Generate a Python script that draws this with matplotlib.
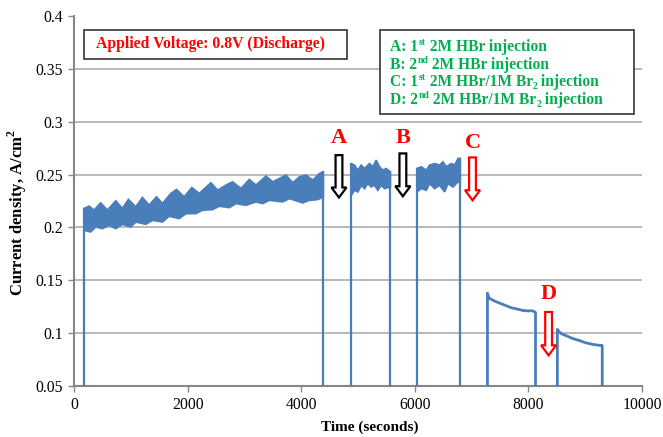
import numpy as np
import matplotlib
matplotlib.use("Agg")
import matplotlib.pyplot as plt
from matplotlib.patches import Rectangle, FancyArrow

plt.rcParams['font.family'] = ['Liberation Serif', 'DejaVu Serif']
plt.rcParams['mathtext.fontset'] = 'custom'
plt.rcParams['mathtext.rm'] = 'Liberation Serif:bold'
plt.rcParams['mathtext.bf'] = 'Liberation Serif:bold'

# ---- data: current density (A/cm^2) vs time (s) ----
# between runs the cell current is zero
gap_current = 0.0

# run 1: noisy band, upper / lower envelope
run1_t_up = [176, 265, 353, 470, 588, 735, 852, 958, 1088, 1205, 1323, 1452, 1558, 1705,
             1805, 1940, 2075, 2205, 2410, 2528, 2675, 2792, 2940, 3086, 3204, 3380,
             3498, 3733, 3851, 3968, 4086, 4203, 4321, 4390]
run1_up = [0.2179, 0.2201, 0.2163, 0.2232, 0.2163, 0.2251, 0.2179, 0.2264, 0.2194, 0.2283,
           0.2210, 0.2289, 0.2226, 0.2321, 0.2358, 0.2289, 0.2377, 0.2321, 0.2422, 0.2352,
           0.2400, 0.2431, 0.2368, 0.2453, 0.2400, 0.2485, 0.2431, 0.2494, 0.2422, 0.2478,
           0.2494, 0.2447, 0.2510, 0.2526]
run1_t_lo = [176, 294, 382, 500, 617, 735, 852, 999, 1088, 1264, 1382, 1558, 1675, 1852,
             1970, 2146, 2263, 2440, 2557, 2734, 2851, 3028, 3204, 3322, 3439, 3674,
             3792, 4027, 4145, 4292, 4390]
run1_lo = [0.1973, 0.1958, 0.2005, 0.1989, 0.2021, 0.1989, 0.2030, 0.2005, 0.2052, 0.2030,
           0.2068, 0.2052, 0.2106, 0.2084, 0.2131, 0.2131, 0.2163, 0.2169, 0.2201, 0.2188,
           0.2226, 0.2210, 0.2242, 0.2226, 0.2257, 0.2242, 0.2273, 0.2232, 0.2257, 0.2264,
           0.2289]

# run 2 (after A)
run2_t_up = [4880, 4938, 4997, 5056, 5115, 5203, 5262, 5320, 5379, 5438, 5497, 5570]
run2_up = [0.2604, 0.2589, 0.2541, 0.2589, 0.2557, 0.2604, 0.2573, 0.2636, 0.2573,
           0.2541, 0.2557, 0.2525]
run2_t_lo = [4880, 4938, 4997, 5056, 5115, 5173, 5232, 5291, 5350, 5409, 5467, 5570]
run2_lo = [0.2304, 0.2352, 0.2336, 0.2399, 0.2368, 0.2415, 0.2383, 0.2399, 0.2352,
           0.2399, 0.2368, 0.2383]

# run 3 (after B)
run3_t_up = [6038, 6114, 6202, 6261, 6349, 6437, 6496, 6555, 6643, 6702, 6761, 6800]
run3_up = [0.2557, 0.2573, 0.2541, 0.2589, 0.2604, 0.2589, 0.2620, 0.2573, 0.2604,
           0.2589, 0.2652, 0.2652]
run3_t_lo = [6038, 6114, 6202, 6261, 6349, 6437, 6526, 6584, 6673, 6761, 6800]
run3_lo = [0.2336, 0.2368, 0.2352, 0.2415, 0.2368, 0.2399, 0.2336, 0.2415, 0.2383,
           0.2431, 0.2431]

# run 4 (after C)
run4_t = [7279, 7310, 7400, 7500, 7600, 7700, 7800, 7900, 8000, 8060, 8100, 8125]
run4_i = [0.1378, 0.1330, 0.1305, 0.1282, 0.1262, 0.1240, 0.1228, 0.1215, 0.1210,
          0.1212, 0.1205, 0.1195]

# run 5 (after D)
run5_t = [8510, 8530, 8580, 8680, 8800, 8900, 9000, 9140, 9250, 9300]
run5_i = [0.1035, 0.1020, 0.0995, 0.0972, 0.0945, 0.0930, 0.0910, 0.0893, 0.0885, 0.0883]

# injection markers: label, time, arrow top, arrow tip, label height, colour
marker_labels = ['A', 'B', 'C', 'D']
marker_t = [4665, 5790, 7016, 8356]
marker_top = [0.2684, 0.2700, 0.2662, 0.1200]
marker_tip = [0.2283, 0.2295, 0.2257, 0.0790]
marker_label_y = [0.2849, 0.2849, 0.2802, 0.1367]
marker_edge = ['black', 'black', 'red', 'red']

x_ticks = [0, 2000, 4000, 6000, 8000, 10000]
y_ticks = [0.05, 0.1, 0.15, 0.2, 0.25, 0.3, 0.35, 0.4]
y_tick_labels = ['0.05', '0.1', '0.15', '0.2', '0.25', '0.3', '0.35', '0.4']

# legend lines as (text, style) pieces: n = normal, sup = superscript, sub = subscript
legend_lines = [
    [('A: 1', 'n'), ('st', 'sup'), (' 2M HBr injection', 'n')],
    [('B: 2', 'n'), ('nd', 'sup'), (' 2M HBr injection', 'n')],
    [('C: 1', 'n'), ('st', 'sup'), (' 2M HBr/1M Br', 'n'), ('2', 'sub'), (' injection', 'n')],
    [('D: 2', 'n'), ('nd', 'sup'), (' 2M HBr/1M Br', 'n'), ('2', 'sub'), (' injection', 'n')],
]
condition_text = 'Applied Voltage: 0.8V (Discharge)'

# ---- figure ----
W, H = 663, 437
fig = plt.figure(figsize=(W / 100, H / 100), dpi=100)
ax = fig.add_axes([74 / W, 1 - 386 / H, (642 - 74) / W, (386 - 16) / H])
renderer = fig.canvas.get_renderer()

blue = '#4A7EBB'
gray = '#868686'


def fx(px):
    return px / W


def fy(py):
    return 1 - py / H


def rich_line(x_px, base_px, pieces, color, size):
    """Draw one line of bold text made of normal / super / subscript pieces."""
    x = x_px
    em = size * 100 / 72
    for s, kind in pieces:
        if kind == 'sup':
            fs, dy = size * 0.62, -0.38 * em
        elif kind == 'sub':
            fs, dy = size * 0.62, 0.18 * em
        else:
            fs, dy = size, 0.0
        t = fig.text(fx(x), fy(base_px + dy), s, fontsize=fs, fontweight='bold',
                     color=color, ha='left', va='baseline', zorder=5)
        x += t.get_window_extent(renderer).width


# noisy bands
for tu, up, tl, lo in [(run1_t_up, run1_up, run1_t_lo, run1_lo),
                       (run2_t_up, run2_up, run2_t_lo, run2_lo),
                       (run3_t_up, run3_up, run3_t_lo, run3_lo)]:
    xs = np.concatenate([tu, tl[::-1]])
    ys = np.concatenate([up, lo[::-1]])
    ax.fill(xs, ys, color=blue, lw=1.3, ec=blue, zorder=3)
    ax.plot([tu[0], tu[0]], [gap_current, up[0]], color=blue, lw=1.6, zorder=3)
    ax.plot([tu[-1], tu[-1]], [gap_current, up[-1]], color=blue, lw=1.6, zorder=3)

# smooth decays
for tt, ii in [(run4_t, run4_i), (run5_t, run5_i)]:
    xs = [tt[0]] + tt + [tt[-1]]
    ys = [gap_current] + ii + [gap_current]
    ax.plot(xs, ys, color=blue, lw=2.0, zorder=3, solid_joinstyle='round')

# axes styling
ax.set_xlim(0, 10000)
ax.set_ylim(0.05, 0.4)
ax.set_xticks(x_ticks)
ax.set_xticklabels([str(v) for v in x_ticks])
ax.set_yticks(y_ticks)
ax.set_yticklabels(y_tick_labels)
for s in ['top', 'right']:
    ax.spines[s].set_visible(False)
for s in ['left', 'bottom']:
    ax.spines[s].set_color(gray)
    ax.spines[s].set_linewidth(1.5)
ax.tick_params(axis='both', direction='out', length=4, width=1.0, color=gray,
               labelsize=11.3, pad=4)
for yv in y_ticks[1:-1]:
    ax.axhline(yv, color='#A6A6A6', lw=1.1, zorder=1)

ax.set_xlabel('Time (seconds)', fontsize=11, fontweight='bold')
ax.xaxis.set_label_coords((370 - 74) / 568, -(421 - 386) / 370)
ax.set_ylabel(r'Current density, A/cm$^{\mathrm{2}}$', fontsize=12, fontweight='bold')
ax.yaxis.set_label_coords(-(74 - 29) / 568, (386 - 213) / 370)

# injection arrows
for lab, t, top, tip, ly, ec in zip(marker_labels, marker_t, marker_top, marker_tip,
                                    marker_label_y, marker_edge):
    arr = FancyArrow(t, top, 0, tip - top, width=120, head_width=265, head_length=0.0095,
                     length_includes_head=True, fc='white', ec=ec, lw=1.6, zorder=5)
    ax.add_patch(arr)
    ax.text(t, ly, lab, color='red', fontsize=16, fontweight='bold', ha='center',
            va='center', zorder=6)

# condition box
fig.patches.append(Rectangle((fx(84), fy(58.5)), fx(347) - fx(84), fy(29.5) - fy(58.5),
                             transform=fig.transFigure, fc='white', ec='#333333', lw=1.2,
                             zorder=4))
fig.text(fx(96), fy(44.5), condition_text, color='red', fontsize=11.3, fontweight='bold',
         ha='left', va='center', zorder=5)

# injection legend box
fig.patches.append(Rectangle((fx(379.5), fy(114)), fx(633.5) - fx(379.5), fy(30) - fy(114),
                             transform=fig.transFigure, fc='white', ec='#333333', lw=1.2,
                             zorder=4))
for i, pieces in enumerate(legend_lines):
    rich_line(390.5, 51 + i * 17.7, pieces, '#00B050', 11.2)

fig.savefig('out.png', dpi=100)
